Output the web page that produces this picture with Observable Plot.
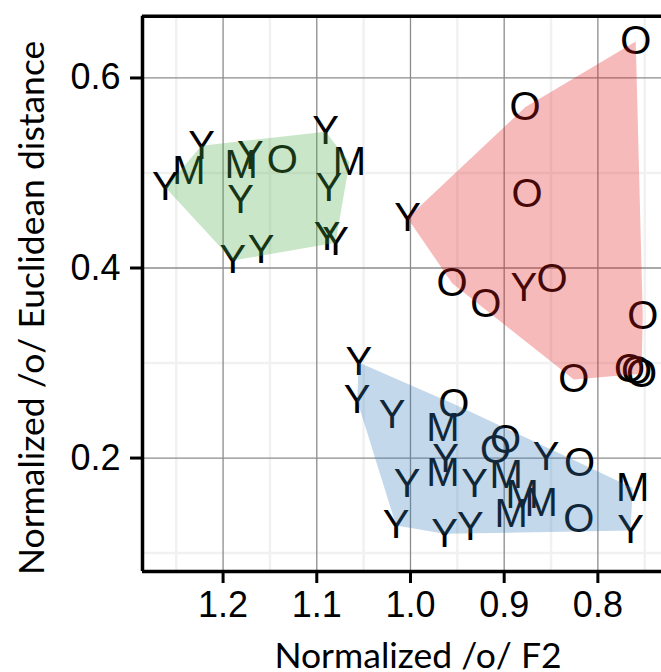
<!DOCTYPE html>
<html>
<head>
<meta charset="utf-8">
<script src="https://cdn.jsdelivr.net/npm/d3@7"></script>
<script src="https://cdn.jsdelivr.net/npm/@observablehq/plot@0.6"></script>
<style>
  html, body { margin: 0; padding: 0; background: #fff; }
  #chart svg { display: block; }
</style>
</head>
<body>
<div id="chart"></div>
<script>
// Speaker groups: Y = young, M = middle-aged, O = old.
// Each cluster: label, normalized /o/ F2, normalized /o/ Euclidean distance.
const greenLabels = ["Y", "M", "Y", "M", "Y", "O", "Y", "Y", "Y", "Y", "M", "Y", "Y", "Y"];
const greenF2     = [1.2615, 1.2366, 1.2230, 1.1807, 1.1708, 1.1369, 1.1814, 1.1896, 1.1593, 1.0907, 1.0651, 1.0872, 1.0889, 1.0800];
const greenDist   = [0.4846, 0.5017, 0.5287, 0.5077, 0.5175, 0.5130, 0.4709, 0.4078, 0.4183, 0.5435, 0.5112, 0.4843, 0.4323, 0.4267];

const redLabels = ["O", "O", "O", "Y", "O", "O", "Y", "O", "O", "O", "O", "O", "O"];
const redF2     = [0.7596, 0.8776, 0.8755, 1.0032, 0.9555, 0.9196, 0.8791, 0.8488, 0.7521, 0.8257, 0.7663, 0.7588, 0.7535];
const redDist   = [0.6385, 0.5691, 0.4772, 0.4527, 0.3839, 0.3615, 0.3791, 0.3878, 0.3492, 0.2826, 0.2931, 0.2910, 0.2886];

const blueLabels = ["Y", "Y", "Y", "O", "M", "Y", "M", "Y", "Y", "M", "O", "O",
                    "M", "M", "M", "Y", "O", "O", "M", "Y", "Y", "Y", "Y"];
const blueF2     = [1.0552, 1.0569, 1.0195, 0.9538, 0.9655, 0.9626, 0.9655, 1.0035, 0.9317, 0.8979, 0.8986, 0.9093,
                    0.8808, 0.8605, 0.8925, 0.8552, 0.8196, 0.8204, 0.7628, 0.7652, 1.0153, 0.9637, 0.9360];
const blueDist   = [0.3005, 0.2605, 0.2447, 0.2570, 0.2318, 0.1992, 0.1844, 0.1721, 0.1721, 0.1816, 0.2184, 0.2079,
                    0.1605, 0.1524, 0.1406, 0.2008, 0.1950, 0.1353, 0.1686, 0.1237, 0.1290, 0.1203, 0.1272];

const xTicks = [1.2, 1.1, 1.0, 0.9, 0.8];
const yTicks = [0.2, 0.4, 0.6];
const xMinor = [1.25, 1.15, 1.05, 0.95, 0.85, 0.75];
const yMinor = [0.1, 0.3, 0.5];
const xDomain = [1.286, 0.7321];
const yDomain = [0.0806, 0.665];

const xTitle = "Normalized /o/ F2";
const yTitle = "Normalized /o/ Euclidean distance";

const toRows = (cluster, labels, f2, dist) =>
  labels.map((label, i) => ({cluster, label, f2: f2[i], dist: dist[i]}));

const greenRows = toRows("green", greenLabels, greenF2, greenDist);
const redRows   = toRows("red", redLabels, redF2, redDist);
const blueRows  = toRows("blue", blueLabels, blueF2, blueDist);
const allRows = [...greenRows, ...redRows, ...blueRows];

const hullStyle = {x: "f2", y: "dist", fillOpacity: 0.3, stroke: "none"};
const titleFont = "Lato, 'Open Sans', sans-serif";

const chart = Plot.plot({
  width: 661,
  height: 672,
  marginLeft: 142,
  marginRight: 0,
  marginTop: 15.7,
  marginBottom: 101,
  style: {fontFamily: "'Liberation Sans', Arial, sans-serif", background: "#fff", color: "#000"},
  x: {domain: xDomain, label: null},
  y: {domain: yDomain, label: null},
  marks: [
    // faint minor grid
    Plot.ruleX(xMinor, {stroke: "#f1f1f1", strokeWidth: 2.5}),
    Plot.ruleY(yMinor, {stroke: "#f1f1f1", strokeWidth: 2.5}),
    // major grid
    Plot.ruleX(xTicks, {stroke: "#8c8c8c", strokeWidth: 1.3}),
    Plot.ruleY(yTicks, {stroke: "#8c8c8c", strokeWidth: 1.3}),
    // letters, drawn under the translucent hulls
    Plot.text(allRows, {x: "f2", y: "dist", text: "label", fontSize: 40, fill: "#000",
      fontFamily: "'Liberation Sans', Arial, sans-serif", lineAnchor: "middle"}),
    // cluster hulls
    Plot.hull(greenRows, {...hullStyle, fill: "#4DAF4A"}),
    Plot.hull(redRows, {...hullStyle, fill: "#E41A1C"}),
    Plot.hull(blueRows, {...hullStyle, fill: "#377EB8"}),
    // panel border (left, top, bottom)
    Plot.ruleX([xDomain[0]], {stroke: "#000", strokeWidth: 3.5}),
    Plot.ruleY(yDomain, {stroke: "#000", strokeWidth: 3.5}),
    // axes
    Plot.axisX({ticks: xTicks, tickFormat: d3.format(".1f"), tickSize: 12, tickPadding: 8,
      fontSize: 36, strokeWidth: 3, stroke: "#000", fill: "#000", label: null}),
    Plot.axisY({ticks: yTicks, tickFormat: d3.format(".1f"), tickSize: 12, tickPadding: 10,
      fontSize: 36, strokeWidth: 3, stroke: "#000", fill: "#000", label: null}),
    // axis titles
    Plot.text([xTitle], {frameAnchor: "bottom", text: d => d, dx: 16, dy: 85, fontSize: 35.5,
      fontFamily: titleFont, fill: "#000", textAnchor: "middle", lineAnchor: "middle"}),
    Plot.text([yTitle], {frameAnchor: "left", text: d => d, rotate: -90, dx: -110, dy: 14, fontSize: 35.5,
      fontFamily: titleFont, fill: "#000", textAnchor: "middle", lineAnchor: "middle"})
  ]
});

document.getElementById("chart").append(chart);
</script>
</body>
</html>
